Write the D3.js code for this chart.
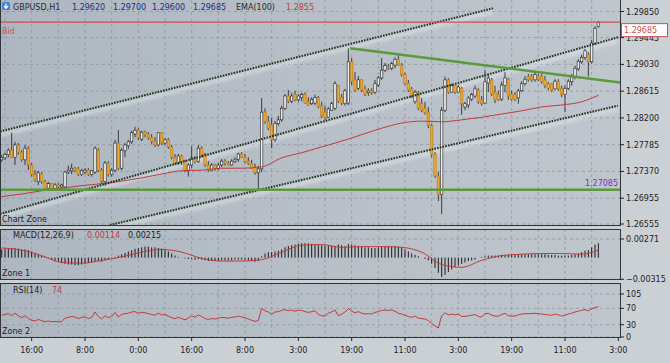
<!DOCTYPE html>
<html>
<head>
<meta charset="utf-8">
<script src="https://cdn.jsdelivr.net/npm/d3@7"></script>
<style>
html, body { margin: 0; padding: 0; background: #cbd0d5; }
svg { display: block; font-family: "DejaVu Sans", sans-serif; font-size: 8px; }
</style>
</head>
<body>
<svg></svg>
<script>
// GBPUSD H1 bars, oldest first
var opens = [
  1.2755, 1.2758, 1.2763, 1.2770, 1.2759, 1.2778, 1.2767, 1.2755, 1.2773, 1.2747,
  1.2732, 1.2721, 1.2733, 1.2721, 1.2711, 1.2718, 1.2711, 1.2716, 1.2713, 1.2713,
  1.2736, 1.2738, 1.2742, 1.2741, 1.2732, 1.2736, 1.2739, 1.2732, 1.2736, 1.2770,
  1.2739, 1.2721, 1.2750, 1.2732, 1.2739, 1.2781, 1.2742, 1.2769, 1.2777, 1.2783,
  1.2795, 1.2801, 1.2787, 1.2798, 1.2795, 1.2790, 1.2784, 1.2778, 1.2797, 1.2781,
  1.2786, 1.2775, 1.2759, 1.2750, 1.2761, 1.2752, 1.2739, 1.2747, 1.2758, 1.2752,
  1.2773, 1.2763, 1.2747, 1.2739, 1.2747, 1.2741, 1.2747, 1.2753, 1.2750, 1.2747,
  1.2753, 1.2756, 1.2764, 1.2759, 1.2753, 1.2749, 1.2744, 1.2735, 1.2741, 1.2829,
  1.2815, 1.2809, 1.2786, 1.2811, 1.2817, 1.2835, 1.2854, 1.2846, 1.2856, 1.2848,
  1.2852, 1.2856, 1.2845, 1.2842, 1.2843, 1.2851, 1.2839, 1.2829, 1.2821, 1.2832,
  1.2835, 1.2870, 1.2852, 1.2842, 1.2843, 1.2907, 1.2879, 1.2866, 1.2879, 1.2865,
  1.2859, 1.2862, 1.2860, 1.2871, 1.2882, 1.2894, 1.2899, 1.2897, 1.2902, 1.2911,
  1.2902, 1.2887, 1.2874, 1.2865, 1.2845, 1.2859, 1.2842, 1.2835, 1.2829, 1.2808,
  1.2763, 1.2730, 1.2701, 1.2832, 1.2879, 1.2860, 1.2870, 1.2860, 1.2866, 1.2837,
  1.2840, 1.2849, 1.2854, 1.2863, 1.2848, 1.2843, 1.2874, 1.2879, 1.2860, 1.2856,
  1.2849, 1.2870, 1.2880, 1.2857, 1.2856, 1.2851, 1.2862, 1.2873, 1.2884, 1.2885,
  1.2879, 1.2885, 1.2885, 1.2879, 1.2873, 1.2873, 1.2865, 1.2877, 1.2866, 1.2856,
  1.2866, 1.2876, 1.2884, 1.2896, 1.2907, 1.2914, 1.2918, 1.2907, 1.2936, 1.2962
]
var highs = [
  1.2763, 1.2766, 1.2773, 1.2797, 1.2783, 1.2781, 1.2770, 1.2778, 1.2776, 1.2750,
  1.2739, 1.2738, 1.2736, 1.2724, 1.2721, 1.2719, 1.2719, 1.2719, 1.2718, 1.2738,
  1.2746, 1.2749, 1.2744, 1.2744, 1.2741, 1.2742, 1.2742, 1.2739, 1.2776, 1.2773,
  1.2742, 1.2753, 1.2753, 1.2742, 1.2786, 1.2801, 1.2773, 1.2781, 1.2786, 1.2800,
  1.2806, 1.2804, 1.2800, 1.2800, 1.2798, 1.2795, 1.2790, 1.2798, 1.2798, 1.2789,
  1.2789, 1.2778, 1.2764, 1.2764, 1.2763, 1.2755, 1.2750, 1.2776, 1.2761, 1.2778,
  1.2776, 1.2766, 1.2753, 1.2750, 1.2749, 1.2750, 1.2756, 1.2756, 1.2753, 1.2756,
  1.2759, 1.2766, 1.2767, 1.2764, 1.2759, 1.2755, 1.2749, 1.2746, 1.2851, 1.2835,
  1.2823, 1.2820, 1.2815, 1.2823, 1.2839, 1.2857, 1.2863, 1.2859, 1.2862, 1.2857,
  1.2859, 1.2860, 1.2852, 1.2852, 1.2856, 1.2854, 1.2845, 1.2839, 1.2837, 1.2845,
  1.2877, 1.2871, 1.2857, 1.2865, 1.2928, 1.2913, 1.2891, 1.2885, 1.2880, 1.2870,
  1.2866, 1.2866, 1.2879, 1.2885, 1.2913, 1.2905, 1.2904, 1.2907, 1.2914, 1.2918,
  1.2905, 1.2890, 1.2879, 1.2868, 1.2863, 1.2862, 1.2851, 1.2845, 1.2837, 1.2811,
  1.2767, 1.2736, 1.2837, 1.2884, 1.2882, 1.2873, 1.2871, 1.2871, 1.2868, 1.2845,
  1.2854, 1.2859, 1.2870, 1.2866, 1.2854, 1.2894, 1.2888, 1.2882, 1.2870, 1.2862,
  1.2876, 1.2891, 1.2882, 1.2862, 1.2860, 1.2865, 1.2877, 1.2885, 1.2888, 1.2888,
  1.2891, 1.2888, 1.2888, 1.2885, 1.2876, 1.2874, 1.2880, 1.2880, 1.2870, 1.2870,
  1.2880, 1.2888, 1.2901, 1.2911, 1.2918, 1.2927, 1.2922, 1.2941, 1.2962, 1.2970
]
var lows = [
  1.2752, 1.2755, 1.2759, 1.2758, 1.2747, 1.2763, 1.2752, 1.2747, 1.2739, 1.2729,
  1.2721, 1.2716, 1.2718, 1.2708, 1.2708, 1.2708, 1.2710, 1.2710, 1.2710, 1.2710,
  1.2733, 1.2733, 1.2736, 1.2730, 1.2730, 1.2733, 1.2730, 1.2729, 1.2733, 1.2736,
  1.2718, 1.2715, 1.2729, 1.2729, 1.2736, 1.2739, 1.2739, 1.2759, 1.2772, 1.2780,
  1.2790, 1.2786, 1.2784, 1.2790, 1.2786, 1.2780, 1.2775, 1.2776, 1.2778, 1.2778,
  1.2772, 1.2756, 1.2747, 1.2747, 1.2747, 1.2736, 1.2729, 1.2742, 1.2749, 1.2750,
  1.2759, 1.2744, 1.2736, 1.2738, 1.2738, 1.2739, 1.2744, 1.2746, 1.2746, 1.2746,
  1.2750, 1.2752, 1.2758, 1.2750, 1.2747, 1.2741, 1.2732, 1.2708, 1.2736, 1.2811,
  1.2801, 1.2773, 1.2783, 1.2808, 1.2814, 1.2832, 1.2843, 1.2843, 1.2846, 1.2845,
  1.2846, 1.2842, 1.2839, 1.2840, 1.2840, 1.2835, 1.2820, 1.2817, 1.2820, 1.2831,
  1.2832, 1.2843, 1.2840, 1.2839, 1.2840, 1.2871, 1.2860, 1.2863, 1.2860, 1.2854,
  1.2854, 1.2856, 1.2857, 1.2868, 1.2879, 1.2891, 1.2894, 1.2894, 1.2897, 1.2901,
  1.2884, 1.2871, 1.2860, 1.2851, 1.2842, 1.2832, 1.2829, 1.2825, 1.2804, 1.2759,
  1.2727, 1.2691, 1.2671, 1.2829, 1.2857, 1.2859, 1.2857, 1.2859, 1.2825, 1.2832,
  1.2835, 1.2846, 1.2851, 1.2842, 1.2839, 1.2842, 1.2860, 1.2854, 1.2843, 1.2846,
  1.2846, 1.2860, 1.2848, 1.2846, 1.2846, 1.2842, 1.2860, 1.2870, 1.2876, 1.2876,
  1.2876, 1.2877, 1.2873, 1.2866, 1.2863, 1.2860, 1.2863, 1.2862, 1.2852, 1.2829,
  1.2863, 1.2870, 1.2880, 1.2893, 1.2904, 1.2910, 1.2884, 1.2904, 1.2933, 1.2960
]
var closes = [
  1.2759, 1.2763, 1.2770, 1.2759, 1.2778, 1.2767, 1.2755, 1.2773, 1.2747, 1.2732,
  1.2724, 1.2735, 1.2721, 1.2711, 1.2718, 1.2711, 1.2716, 1.2713, 1.2716, 1.2736,
  1.2739, 1.2742, 1.2739, 1.2732, 1.2738, 1.2739, 1.2732, 1.2738, 1.2773, 1.2739,
  1.2722, 1.2750, 1.2732, 1.2739, 1.2781, 1.2742, 1.2770, 1.2778, 1.2783, 1.2797,
  1.2801, 1.2789, 1.2798, 1.2794, 1.2789, 1.2783, 1.2778, 1.2797, 1.2781, 1.2786,
  1.2775, 1.2759, 1.2750, 1.2761, 1.2752, 1.2739, 1.2747, 1.2758, 1.2752, 1.2773,
  1.2763, 1.2747, 1.2739, 1.2747, 1.2741, 1.2747, 1.2753, 1.2750, 1.2747, 1.2753,
  1.2756, 1.2764, 1.2759, 1.2752, 1.2749, 1.2742, 1.2735, 1.2741, 1.2829, 1.2814,
  1.2804, 1.2786, 1.2811, 1.2817, 1.2835, 1.2854, 1.2846, 1.2854, 1.2848, 1.2854,
  1.2856, 1.2843, 1.2840, 1.2849, 1.2852, 1.2837, 1.2823, 1.2820, 1.2834, 1.2842,
  1.2873, 1.2846, 1.2843, 1.2862, 1.2907, 1.2876, 1.2863, 1.2879, 1.2863, 1.2857,
  1.2862, 1.2859, 1.2873, 1.2882, 1.2894, 1.2901, 1.2897, 1.2904, 1.2911, 1.2902,
  1.2887, 1.2873, 1.2863, 1.2854, 1.2860, 1.2835, 1.2832, 1.2828, 1.2808, 1.2763,
  1.2730, 1.2701, 1.2832, 1.2879, 1.2860, 1.2870, 1.2860, 1.2868, 1.2842, 1.2842,
  1.2851, 1.2856, 1.2865, 1.2845, 1.2842, 1.2876, 1.2882, 1.2857, 1.2848, 1.2848,
  1.2871, 1.2882, 1.2854, 1.2849, 1.2849, 1.2862, 1.2873, 1.2880, 1.2879, 1.2879,
  1.2887, 1.2880, 1.2876, 1.2870, 1.2866, 1.2863, 1.2877, 1.2865, 1.2856, 1.2866,
  1.2877, 1.2885, 1.2897, 1.2908, 1.2914, 1.2924, 1.2907, 1.2936, 1.2959, 1.29685
]

// EMA(100) and MACD signal, read every 6 bars
var sampleBars = [0, 6, 12, 18, 24, 30, 36, 42, 48, 54, 60, 66, 72, 78, 84, 90, 96, 102, 108, 114, 120, 126, 132, 138, 144, 150, 156, 162, 168, 174, 179]
var emaValues = [
  1.2698, 1.2702, 1.2707, 1.2711, 1.2715, 1.2718, 1.2722, 1.2727, 1.2733, 1.2738,
  1.2739, 1.2742, 1.2742, 1.2744, 1.2758, 1.2766, 1.2775, 1.2784, 1.2794, 1.2804,
  1.2812, 1.2815, 1.2814, 1.2817, 1.2821, 1.2826, 1.2831, 1.2837, 1.2840, 1.2845, 1.2855
]
var signalValues = [
  0.0014, 0.0011, 0.0003, -0.0007, -0.0008, -0.0004, 0.0001, 0.0008, 0.0012, 0.0008,
  -0.0001, -0.0005, -0.0005, -0.0003, 0.0008, 0.0018, 0.0019, 0.0015, 0.0016, 0.0016,
  0.0015, 0.0008, -0.0010, -0.0014, -0.0004, 0.0003, 0.0005, 0.0006, 0.0006, 0.0005, 0.0011
]

// MACD histogram, one value per bar
var macdValues = [
  0.0012, 0.0013, 0.0013, 0.0014, 0.0014, 0.0013, 0.0012, 0.0012, 0.0011, 0.0009,
  0.0007, 0.0005, 0.0003, 0.0001, -0.0001, -0.0003, -0.0005, -0.0006,
  -0.0008, -0.0009, -0.0010, -0.0010, -0.0011, -0.0011, -0.0010, -0.0009,
  -0.0008, -0.0007, -0.0005, -0.0005, -0.0006, -0.0004, -0.0003,
  -0.0001, 0.0001, 0.0003, 0.0005, 0.0007, 0.0009, 0.0011, 0.0013, 0.0014, 0.0015,
  0.0016, 0.0016, 0.0015, 0.0015, 0.0014,
  0.0013, 0.0011, 0.0009, 0.0006, 0.0003, 0.0001, 0.0000, -0.0001,
  -0.0002, -0.0002, -0.0003, -0.0002, -0.0003, -0.0004, -0.0005, -0.0005, -0.0005, -0.0005, -0.0004,
  -0.0004, -0.0004, -0.0004, -0.0003, -0.0003, -0.0003, -0.0003, -0.0004, -0.0005, -0.0006, -0.0005,
  0.0002, 0.0006, 0.0008, 0.0008, 0.0009, 0.0010, 0.0012, 0.0015, 0.0017, 0.0018, 0.0019, 0.0020,
  0.0021, 0.0021, 0.0021, 0.0020, 0.0019, 0.0019, 0.0018, 0.0018, 0.0017, 0.0017, 0.0017,
  0.0019, 0.0018, 0.0017, 0.0020, 0.0019, 0.0018, 0.0017, 0.0016, 0.0015, 0.0015,
  0.0014, 0.0014, 0.0015, 0.0016, 0.0016, 0.0016, 0.0016, 0.0017, 0.0016, 0.0015,
  0.0012, 0.0009, 0.0006, 0.0004, 0.0002,
  0.0000, -0.0002, -0.0004,
  -0.0009, -0.0015, -0.0022, -0.0028, -0.0025,
  -0.0021, -0.0017, -0.0014, -0.0011, -0.0009, -0.0007, -0.0005, -0.0004, -0.0003,
  0.0000, 0.0001, 0.0002, 0.0003, 0.0003, 0.0003, 0.0003, 0.0004, 0.0004, 0.0004,
  0.0004, 0.0004, 0.0005, 0.0005, 0.0005, 0.0005, 0.0005, 0.0005, 0.0005, 0.0005,
  0.0005, 0.0004, 0.0004, 0.0004, 0.0003, 0.0003, 0.0003, 0.0003, 0.0004, 0.0005,
  0.0006, 0.0008, 0.0010, 0.0011, 0.0015, 0.0019, 0.0021
]

// RSI(14), one value per bar
var rsiValues = [
  53, 55, 57, 52, 58, 52, 47, 52, 45, 41,
  39, 43, 40, 37, 39, 37, 38, 37, 38, 46,
  48, 50, 49, 45, 48, 49, 45, 48, 61, 50,
  44, 52, 47, 50, 60, 49, 55, 57, 58, 61,
  62, 58, 60, 59, 57, 55, 53, 58, 54, 55,
  51, 47, 45, 48, 45, 42, 46, 52, 48, 54,
  50, 45, 43, 45, 44, 46, 48, 47, 46, 48,
  49, 51, 49, 47, 44, 41, 38, 40, 70, 64,
  61, 56, 61, 62, 65, 67, 64, 66, 63, 65,
  65, 62, 60, 62, 64, 55, 52, 51, 58, 61,
  66, 52, 56, 61, 70, 63, 59, 62, 58, 56,
  57, 56, 60, 62, 65, 66, 65, 66, 63, 58,
  56, 53, 50, 48, 51, 46, 45, 44, 40, 33,
  27, 22, 52, 59, 54, 56, 54, 56, 50, 50,
  52, 53, 55, 50, 49, 57, 58, 53, 51, 51,
  55, 58, 52, 51, 51, 54, 56, 57, 57, 57,
  58, 57, 56, 55, 54, 53, 56, 54, 51, 53,
  56, 58, 61, 63, 65, 67, 64, 69, 72, 74
]

// drawn objects: [bar, price] end points
var channelLines = [
  [[-0.5, 1.2799], [147.4, 1.2990]],
  [[-0.5, 1.2671], [184.9, 1.2945]],
  [[32.5, 1.2654], [184.9, 1.2839]]
]
var resistanceLine = [[104.5, 1.2928], [185.5, 1.2875]]
var supportLevel = 1.27085
var bidPrice = 1.29685

var priceTicks = [1.29850, 1.29445, 1.29030, 1.28615, 1.28200, 1.27785, 1.27370, 1.26955, 1.26555]
var macdTicks = [0.00271, -0.00315]
var rsiTicks = [105, 70, 30, 0]
var timeLabels = ["16:00", "8:00", "0:00", "16:00", "8:00", "3:00", "19:00", "11:00", "3:00", "19:00", "11:00", "3:00"]
var timeBars = [9, 25, 41, 57, 73, 89, 105, 121, 137, 153, 169, 185]

var width = 670, height = 363, plotRight = 620
var panels = [
  { name: "main", top: -1, bottom: 226 },
  { name: "macd", top: 229, bottom: 280 },
  { name: "rsi", top: 283, bottom: 338 }
]

var svg = d3.select("svg")
  .attr("width", width)
  .attr("height", height)

var defs = svg.append("defs")
var bg = defs.append("linearGradient").attr("id", "bg")
  .attr("x1", 0).attr("x2", 1).attr("y1", 0).attr("y2", 0)
bg.append("stop").attr("offset", 0).attr("stop-color", "#aeb7c1")
bg.append("stop").attr("offset", 1).attr("stop-color", "#c0c6cd")

// soft light band under the drawn lines
defs.append("filter").attr("id", "soft")
  .attr("x", "-5%").attr("y", "-50%").attr("width", "110%").attr("height", "200%")
  .append("feGaussianBlur").attr("stdDeviation", 1.6)

panels.forEach(function (p) {
  defs.append("clipPath").attr("id", "clip-" + p.name)
    .append("rect").attr("x", 0).attr("y", p.top).attr("width", plotRight).attr("height", p.bottom - p.top)
})

// scales
var x = d3.scaleLinear().domain([0, 185]).range([1.67, 618.33])
var yMain = d3.scaleLinear().domain([1.26555, 1.29850]).range([224, 11.5])
var yMacd = d3.scaleLinear().domain([-0.00315, 0.00271]).range([279.3, 239])
var yRsi = d3.scaleLinear().domain([0, 105]).range([337, 294])

var bars = d3.range(closes.length)
var gridBars = d3.range(1, 185, 8)

// panel backgrounds
panels.forEach(function (p) {
  svg.append("rect")
    .attr("x", 0).attr("y", p.top)
    .attr("width", plotRight).attr("height", p.bottom - p.top)
    .attr("fill", "url(#bg)")
})

// grid
function vGrid(p) {
  svg.append("g").selectAll("line").data(gridBars).enter().append("line")
    .attr("x1", d => x(d)).attr("x2", d => x(d))
    .attr("y1", Math.max(p.top, 0)).attr("y2", p.bottom)
    .attr("stroke", "#8e979f").attr("stroke-width", 0.8)
    .attr("stroke-dasharray", "3,3")
}
panels.forEach(vGrid)

function hGrid(ticks, scale) {
  svg.append("g").selectAll("line").data(ticks).enter().append("line")
    .attr("x1", 0).attr("x2", plotRight)
    .attr("y1", d => scale(d)).attr("y2", d => scale(d))
    .attr("stroke", "#8e979f").attr("stroke-width", 0.8)
    .attr("stroke-dasharray", "3,3")
}
hGrid(priceTicks, yMain)
hGrid(macdTicks, yMacd)
hGrid(rsiTicks, yRsi)

// main chart
var main = svg.append("g").attr("clip-path", "url(#clip-main)")

var objLine = d3.line().x(d => x(d[0])).y(d => yMain(d[1]))

// light bands drawn first so candles sit on them
channelLines.forEach(function (c) {
  main.append("path")
    .attr("d", objLine(c))
    .attr("transform", "translate(0,3.5)")
    .attr("stroke", "rgba(235,240,245,0.45)")
    .attr("stroke-width", 4)
    .attr("filter", "url(#soft)")
})

var candle = main.selectAll(".candle")
  .data(bars)
  .enter()
  .append("g")

candle.append("line")
  .attr("x1", i => x(i)).attr("x2", i => x(i))
  .attr("y1", i => yMain(highs[i])).attr("y2", i => yMain(lows[i]))
  .attr("stroke", "#2e2e2e")
  .attr("stroke-width", 0.9)

candle.append("rect")
  .attr("x", i => x(i) - 1.2)
  .attr("width", 2.4)
  .attr("y", i => yMain(Math.max(opens[i], closes[i])))
  .attr("height", i => Math.max(0.8, Math.abs(yMain(opens[i]) - yMain(closes[i]))))
  .attr("fill", i => closes[i] >= opens[i] ? "#f0f0f0" : "#eea62e")
  .attr("stroke", i => closes[i] >= opens[i] ? "#1e1e1e" : "#b87a14")
  .attr("stroke-width", 0.6)

// EMA(100)
var emaLine = d3.line()
  .x((d, k) => x(sampleBars[k]))
  .y(d => yMain(d))
  .curve(d3.curveMonotoneX)

main.append("path")
  .attr("d", emaLine(emaValues))
  .attr("fill", "none")
  .attr("stroke", "#c23b3b")
  .attr("stroke-width", 1)

// trend lines
channelLines.forEach(function (c) {
  main.append("path")
    .attr("d", objLine(c))
    .attr("stroke", "#1d331d")
    .attr("stroke-width", 2)
    .attr("stroke-dasharray", "1.6,1.2")
})

main.append("path")
  .attr("d", objLine(resistanceLine))
  .attr("stroke", "#5a9a3a")
  .attr("stroke-width", 2.4)

main.append("line")
  .attr("x1", 0).attr("x2", plotRight)
  .attr("y1", yMain(supportLevel)).attr("y2", yMain(supportLevel))
  .attr("stroke", "#5a9a3a")
  .attr("stroke-width", 2.4)

main.append("line")
  .attr("x1", 0).attr("x2", plotRight)
  .attr("y1", yMain(bidPrice)).attr("y2", yMain(bidPrice))
  .attr("stroke", "#c8524f")
  .attr("stroke-width", 1.4)

main.append("text")
  .attr("x", 618).attr("y", yMain(supportLevel) - 4)
  .attr("text-anchor", "end")
  .attr("fill", "#7434c4")
  .text(d3.format(".5f")(supportLevel))

// MACD panel
var macd = svg.append("g").attr("clip-path", "url(#clip-macd)")

macd.selectAll(".hist")
  .data(bars)
  .enter()
  .append("line")
  .attr("x1", i => x(i)).attr("x2", i => x(i))
  .attr("y1", yMacd(0))
  .attr("y2", i => yMacd(macdValues[i]))
  .attr("stroke", "#1c1c1c")
  .attr("stroke-width", 1)

macd.append("path")
  .attr("d", d3.line().x((d, k) => x(sampleBars[k])).y(d => yMacd(d)).curve(d3.curveMonotoneX)(signalValues))
  .attr("fill", "none")
  .attr("stroke", "#c23b3b")
  .attr("stroke-width", 1)

// RSI panel
var rsi = svg.append("g").attr("clip-path", "url(#clip-rsi)")

rsi.append("path")
  .attr("d", d3.line().x((d, i) => x(i)).y(d => yRsi(d))(rsiValues))
  .attr("fill", "none")
  .attr("stroke", "#c23b3b")
  .attr("stroke-width", 1)

// panel frames
panels.forEach(function (p) {
  svg.append("rect")
    .attr("x", 0.5).attr("y", p.top + 0.5)
    .attr("width", plotRight).attr("height", p.bottom - p.top - 1)
    .attr("fill", "none")
    .attr("stroke", "#30353a")
    .attr("stroke-width", 1)
})

// right axis labels
function axisLabels(ticks, scale, fmt) {
  var g = svg.append("g").selectAll("g").data(ticks).enter().append("g")
  g.append("line")
    .attr("x1", plotRight).attr("x2", plotRight + 4)
    .attr("y1", d => scale(d)).attr("y2", d => scale(d))
    .attr("stroke", "#222")
  g.append("text")
    .attr("x", plotRight + 6)
    .attr("y", d => scale(d) + 3)
    .attr("fill", "#1e1e1e")
    .text(fmt)
}
axisLabels(priceTicks, yMain, d3.format(".5f"))
axisLabels(macdTicks, yMacd, d3.format(".5f"))
axisLabels(rsiTicks, yRsi, d => d)

// bid price box
svg.append("rect")
  .attr("x", 621.5).attr("y", yMain(bidPrice) + 1.5)
  .attr("width", 46).attr("height", 13)
  .attr("fill", "#ffffff")
  .attr("stroke", "#c8524f")
svg.append("text")
  .attr("x", 624).attr("y", yMain(bidPrice) + 11)
  .attr("fill", "#c8524f")
  .text(d3.format(".5f")(bidPrice))

// time axis
svg.append("g").selectAll("line").data(timeBars).enter().append("line")
  .attr("x1", d => x(d)).attr("x2", d => x(d))
  .attr("y1", 338).attr("y2", 341)
  .attr("stroke", "#222")
svg.append("g").selectAll("text").data(timeBars).enter().append("text")
  .attr("x", d => x(d)).attr("y", 353)
  .attr("text-anchor", "middle")
  .attr("fill", "#1e1e1e")
  .text((d, k) => timeLabels[k])

// header
var head = svg.append("g")
head.append("rect").attr("x", 2).attr("y", 2).attr("width", 8).attr("height", 8).attr("rx", 1.5).attr("fill", "#3f86d6")
head.append("path").attr("d", "M6,3.5 V8 M4,6 L6,8.3 L8,6").attr("stroke", "#fff").attr("stroke-width", 1.2).attr("fill", "none")

var headItems = [
  { t: "GBPUSD,H1", x: 13, c: "#2a2a2a" },
  { t: d3.format(".5f")(opens[179]), x: 72, c: "#1f2c8c" },
  { t: d3.format(".5f")(highs[179]), x: 113, c: "#1f2c8c" },
  { t: d3.format(".5f")(lows[179]), x: 152, c: "#1f2c8c" },
  { t: d3.format(".5f")(closes[179]), x: 193, c: "#1f2c8c" },
  { t: "EMA(100)", x: 236, c: "#2a2a2a" },
  { t: d3.format(".4f")(emaValues[emaValues.length - 1]), x: 286, c: "#c23b3b" }
]
head.selectAll("text").data(headItems).enter().append("text")
  .attr("x", d => d.x).attr("y", 10)
  .attr("fill", d => d.c)
  .text(d => d.t)

var notes = [
  { t: "Bid", x: 2, y: 34, c: "#c8524f" },
  { t: "Chart Zone", x: 2, y: 222, c: "#1e1e1e" },
  { t: "MACD(12,26,9)", x: 13, y: 238, c: "#1e1e1e" },
  { t: "0.00114", x: 87, y: 238, c: "#c23b3b" },
  { t: "0.00215", x: 128, y: 238, c: "#1e1e1e" },
  { t: "Zone 1", x: 2, y: 276, c: "#1e1e1e" },
  { t: "RSI(14)", x: 13, y: 293, c: "#1e1e1e" },
  { t: "74", x: 52, y: 293, c: "#c23b3b" },
  { t: "Zone 2", x: 2, y: 334, c: "#1e1e1e" }
]
svg.append("g").selectAll("text").data(notes).enter().append("text")
  .attr("x", d => d.x).attr("y", d => d.y)
  .attr("fill", d => d.c)
  .text(d => d.t)
</script>
</body>
</html>
